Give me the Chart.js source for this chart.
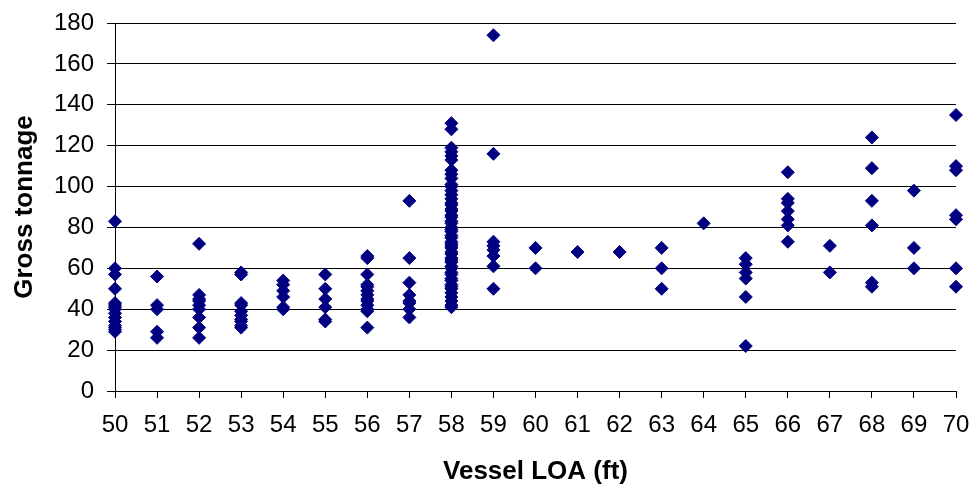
<!DOCTYPE html>
<html lang="en">
<head>
    <meta charset="UTF-8">
    <title>Gross tonnage vs vessel LOA</title>
    <style>
        body { margin: 0; background: #fff; }
        #myChart { display: block; }
    </style>
</head>
<body>
    <canvas id="myChart" width="972" height="487"></canvas>

    <script src="https://cdn.jsdelivr.net/npm/chart.js"></script>

    <script>
// vessel lengths (ft) on the x axis
const loaFt = [50, 51, 52, 53, 54, 55, 56, 57, 58, 59, 60, 61, 62, 63, 64, 65, 66, 67, 68, 69, 70];

// gross tonnage readings for each length
const gt50 = [83, 60, 57, 50, 43, 42, 41, 40, 38, 36, 34, 32, 31, 30, 29];
const gt51 = [56, 42, 40, 29, 26];
const gt52 = [72, 47, 45, 44, 42, 40, 36, 31, 26];
const gt53 = [58, 57, 43, 42, 39, 37, 35, 34, 32, 31];
const gt54 = [54, 52, 49, 46, 41, 40];
const gt55 = [57, 50, 45, 41, 35, 34];
const gt56 = [66, 65, 57, 52, 51, 49, 47, 45, 44, 42, 40, 39, 31];
const gt57 = [93, 65, 53, 47, 44, 43, 40, 36];
const gt58 = [131, 128, 119, 117, 115, 113, 108, 106, 104, 101, 100, 98, 96, 94, 92, 91, 89, 88,
              86, 85, 83, 82, 80, 79, 78, 76, 75, 73, 72, 71, 70, 68, 67, 65, 64, 63, 61, 60,
              58, 57, 55, 54, 52, 51, 50, 48, 46, 44, 42, 41];
const gt59 = [174, 116, 73, 71, 69, 66, 61, 50];
const gt60 = [70, 60];
const gt61 = [68];
const gt62 = [68];
const gt63 = [70, 60, 50];
const gt64 = [82];
const gt65 = [65, 62, 58, 55, 46, 22];
const gt66 = [107, 94, 92, 88, 84, 81, 73];
const gt67 = [71, 58];
const gt68 = [124, 109, 93, 81, 53, 51];
const gt69 = [98, 70, 60];
const gt70 = [135, 110, 108, 86, 84, 60, 51];

const tonnageByLoa = [gt50, gt51, gt52, gt53, gt54, gt55, gt56, gt57, gt58, gt59, gt60,
                      gt61, gt62, gt63, gt64, gt65, gt66, gt67, gt68, gt69, gt70];

const points = [];
loaFt.forEach((loa, i) => {
    tonnageByLoa[i].forEach(gt => points.push({x: loa, y: gt}));
});

const ctx = document.getElementById('myChart');
const tickFont = {family: '"Liberation Sans", Arial, sans-serif', size: 24};
const titleFont = {family: '"Liberation Sans", Arial, sans-serif', size: 26, weight: 'bold'};

new Chart(ctx, {
    type: 'scatter',
    data: {
        datasets: [{
            label: 'Gross tonnage',
            data: points,
            pointStyle: 'rectRot',
            pointRadius: 6.5,
            pointHoverRadius: 6.5,
            pointBorderWidth: 1,
            backgroundColor: '#000080',
            borderColor: '#000080',
            clip: false
        }]
    },
    options: {
        responsive: false,
        animation: false,
        devicePixelRatio: 1,
        layout: {
            padding: {top: 23, right: 16, left: 0, bottom: 0}
        },
        plugins: {
            legend: {display: false},
            tooltip: {enabled: false}
        },
        scales: {
            x: {
                type: 'linear',
                min: 50,
                max: 70,
                afterFit: (scale) => {
                    scale.height = 96;
                    scale.paddingLeft = 0;
                    scale.paddingRight = 0;
                },
                ticks: {
                    stepSize: 1,
                    color: '#000',
                    font: tickFont,
                    padding: 13,
                    maxRotation: 0,
                    autoSkip: false
                },
                grid: {
                    drawOnChartArea: false,
                    drawTicks: true,
                    tickLength: 7,
                    color: '#000'
                },
                border: {color: '#000', width: 1},
                title: {
                    display: true,
                    text: 'Vessel LOA (ft)',
                    color: '#000',
                    font: titleFont,
                    padding: {top: 0, bottom: 0}
                }
            },
            y: {
                min: 0,
                max: 180,
                afterFit: (scale) => {
                    scale.width = 115;
                    scale.paddingTop = 0;
                    scale.paddingBottom = 0;
                },
                ticks: {
                    stepSize: 20,
                    color: '#000',
                    font: tickFont,
                    padding: 13
                },
                grid: {
                    color: '#000',
                    lineWidth: 1,
                    drawTicks: true,
                    tickLength: 8
                },
                border: {color: '#000', width: 1},
                title: {
                    display: true,
                    text: 'Gross tonnage',
                    color: '#000',
                    font: titleFont,
                    padding: {top: 9, bottom: 0}
                }
            }
        }
    }
});
    </script>
</body>
</html>
